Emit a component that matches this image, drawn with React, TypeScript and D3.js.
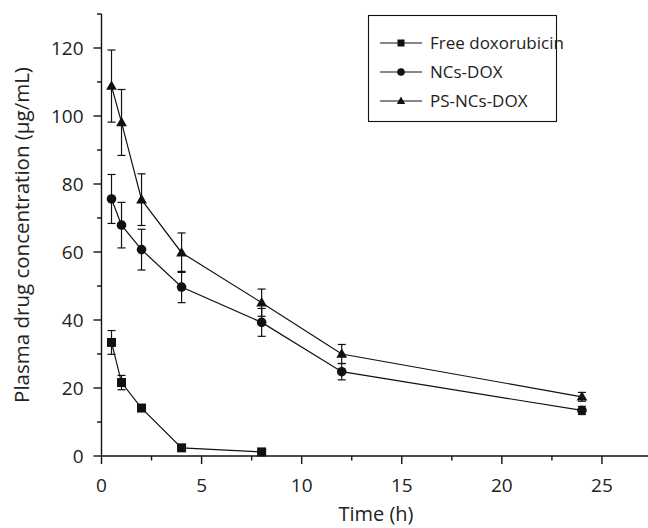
import React from 'react';
import * as d3 from 'd3';

// Sampling times (h)
const times = [0.5, 1, 2, 4, 8, 12, 24];

// Plasma concentrations (ug/mL) and SD
const freeDox = [33.4, 21.6, 14.1, 2.4, 1.2];
const freeDoxErr = [3.5, 2.1, 0.8, 0.5, 0.4];
const ncsDox = [75.6, 67.9, 60.7, 49.7, 39.3, 24.8, 13.4];
const ncsDoxErr = [7.2, 6.7, 6.0, 4.6, 4.1, 2.4, 1.2];
const psNcsDox = [108.8, 98.1, 75.4, 59.8, 45.1, 30.0, 17.4];
const psNcsDoxErr = [10.6, 9.7, 7.6, 5.8, 4.0, 2.8, 1.3];

const seriesNames = ['Free doxorubicin', 'NCs-DOX', 'PS-NCs-DOX'];
const seriesShapes = ['square', 'circle', 'triangle'];

const xTicks = [0, 5, 10, 15, 20, 25];
const xMinorTicks = [2.5, 7.5, 12.5, 17.5, 22.5];
const yTicks = [0, 20, 40, 60, 80, 100, 120];
const yMinorTicks = [10, 30, 50, 70, 90, 110, 130];

const W = 648;
const H = 528;
const FONT = '"Open Sans", "DejaVu Sans", sans-serif';

const x = d3.scaleLinear().domain([0, 27.3]).range([101.5, 648]);
const y = d3.scaleLinear().domain([0, 130]).range([456, 14]);

const Marker = ({ shape, cx, cy, s }: { shape: string; cx: number; cy: number; s: number }) => {
  if (shape === 'square') {
    return <rect x={cx - s / 2} y={cy - s / 2} width={s} height={s} fill="#111" />;
  }
  if (shape === 'circle') {
    return <circle cx={cx} cy={cy} r={s / 2 + 0.3} fill="#111" />;
  }
  const h = s * 1.05;
  const w = s * 1.2;
  return (
    <path
      d={`M${cx},${cy - h * 0.6}L${cx + w / 2},${cy + h * 0.4}L${cx - w / 2},${cy + h * 0.4}Z`}
      fill="#111"
    />
  );
};

const App = () => {
  const series = [
    { name: seriesNames[0], shape: seriesShapes[0], values: freeDox, err: freeDoxErr },
    { name: seriesNames[1], shape: seriesShapes[1], values: ncsDox, err: ncsDoxErr },
    { name: seriesNames[2], shape: seriesShapes[2], values: psNcsDox, err: psNcsDoxErr },
  ];

  const line = d3
    .line<number>()
    .x((_, i) => x(times[i]))
    .y((d) => y(d));

  const cap = 4;

  return (
    <div style={{ position: 'absolute', left: 0, top: 0 }}>
      <svg width={W} height={H} style={{ display: 'block', background: '#fff' }} fontFamily={FONT}>
        {/* axes */}
        <g stroke="#111" strokeWidth={1.4} fill="none">
          <line x1={x(0)} x2={x(0)} y1={y(0)} y2={y(130)} />
          <line x1={x(0)} x2={W} y1={y(0)} y2={y(0)} />
          {yTicks.map((t) => (
            <line key={'yt' + t} x1={x(0) - 8} x2={x(0)} y1={y(t)} y2={y(t)} />
          ))}
          {yMinorTicks.map((t) => (
            <line key={'ym' + t} x1={x(0) - 4.5} x2={x(0)} y1={y(t)} y2={y(t)} />
          ))}
          {xTicks.map((t) => (
            <line key={'xt' + t} x1={x(t)} x2={x(t)} y1={y(0)} y2={y(0) + 8} />
          ))}
          {xMinorTicks.map((t) => (
            <line key={'xm' + t} x1={x(t)} x2={x(t)} y1={y(0)} y2={y(0) + 4.5} />
          ))}
        </g>
        <g fontSize={19} fill="#222">
          {yTicks.map((t) => (
            <text key={'yl' + t} x={x(0) - 18} y={y(t)} dy="0.36em" textAnchor="end">
              {t}
            </text>
          ))}
          {xTicks.map((t) => (
            <text key={'xl' + t} x={x(t)} y={y(0) + 35.5} textAnchor="middle">
              {t}
            </text>
          ))}
        </g>
        <text x={376} y={521} fontSize={20} fill="#222" textAnchor="middle">
          Time (h)
        </text>
        <text
          transform={`translate(29,${(y(0) + y(130)) / 2}) rotate(-90)`}
          fontSize={20.5}
          fill="#222"
          textAnchor="middle"
        >
          Plasma drug concentration (μg/mL)
        </text>

        {/* series */}
        {series.map((s) => (
          <g key={s.name}>
            <path d={line(s.values) || ''} fill="none" stroke="#111" strokeWidth={1.2} />
            {s.values.map((v, i) => {
              const cx = x(times[i]);
              const top = y(v + s.err[i]);
              const bot = y(v - s.err[i]);
              return (
                <g key={i} stroke="#111" strokeWidth={1.2}>
                  <line x1={cx} x2={cx} y1={top} y2={bot} />
                  <line x1={cx - cap} x2={cx + cap} y1={top} y2={top} />
                  <line x1={cx - cap} x2={cx + cap} y1={bot} y2={bot} />
                </g>
              );
            })}
            {s.values.map((v, i) => (
              <Marker key={'m' + i} shape={s.shape} cx={x(times[i])} cy={y(v)} s={9} />
            ))}
          </g>
        ))}

        {/* legend */}
        <rect x={368.5} y={15.5} width={188} height={106} fill="#fff" stroke="#111" strokeWidth={1.1} />
        {series.map((s, i) => {
          const ly = 43 + i * 29;
          return (
            <g key={'lg' + s.name}>
              <line x1={380} x2={422} y1={ly} y2={ly} stroke="#111" strokeWidth={1.2} />
              <Marker shape={s.shape} cx={401} cy={ly} s={7} />
              <text x={430} y={ly} dy="0.36em" fontSize={17} fill="#222">
                {s.name}
              </text>
            </g>
          );
        })}
      </svg>
    </div>
  );
};

export default App;
